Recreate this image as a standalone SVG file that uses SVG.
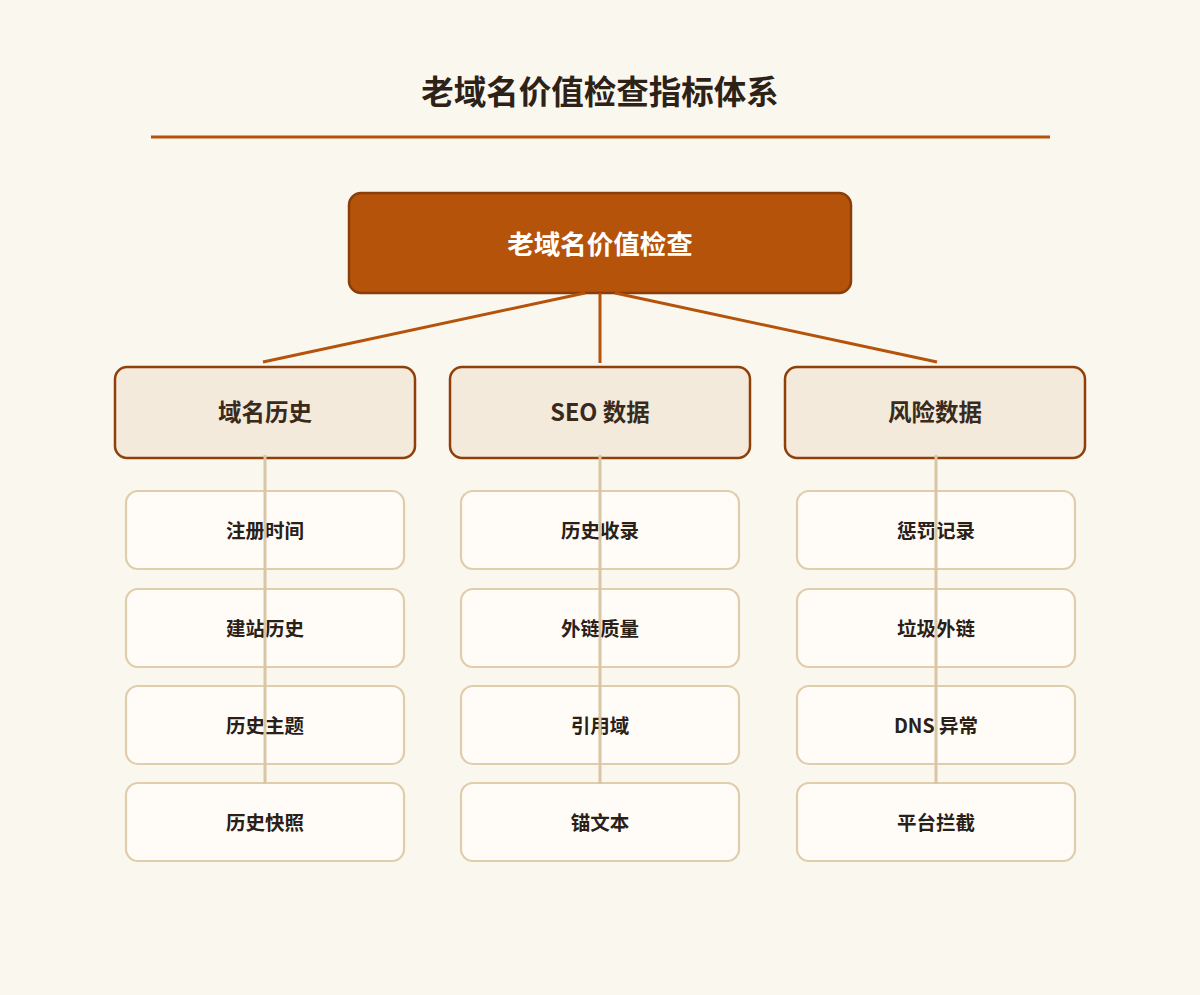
<svg xmlns="http://www.w3.org/2000/svg" width="1200" height="995" viewBox="0 0 1200 995">
<style>
.t{font-family:"Noto Sans CJK SC","Noto Sans",sans-serif;font-weight:bold;text-anchor:middle;dominant-baseline:central}
.cat rect{fill:#f3eadb;stroke:#8e3f0a;stroke-width:2.5}
.cat text{font-size:23.5px;fill:#3a2a1c}
.leaf rect{fill:#fffcf7;stroke:#dfcdab;stroke-width:2.2}
.leaf text{font-size:19.5px;fill:#2a2018}
.c1{stroke:#b5530a;stroke-width:3;fill:none}
.c2{stroke:#d8c6a4;stroke-width:3;fill:none}
</style>
<rect width="1200" height="995" fill="#faf7ef"/>
<text class="t" x="600" y="89" font-size="32.5" fill="#2e2216">老域名价值检查指标体系</text>
<line x1="151" y1="137" x2="1050" y2="137" stroke="#b5530a" stroke-width="3"/>
<g id="root"><rect x="349" y="193" width="502" height="100" rx="12" fill="#b5530a" stroke="#8a3d08" stroke-width="2.5"/><text class="t" x="600" y="242" font-size="26.5" fill="#ffffff">老域名价值检查</text></g>
<g id="cat1" class="cat"><rect x="115" y="367" width="300" height="91" rx="12"/><text class="t" x="265" y="411">域名历史</text></g>
<g id="cat2" class="cat"><rect x="450" y="367" width="300" height="91" rx="12"/><text class="t" x="600" y="411">SEO 数据</text></g>
<g id="cat3" class="cat"><rect x="785" y="367" width="300" height="91" rx="12"/><text class="t" x="935" y="411">风险数据</text></g>
<g id="l11" class="leaf"><rect x="126" y="491" width="278" height="78" rx="12"/><text class="t" x="265" y="529">注册时间</text></g>
<g id="l12" class="leaf"><rect x="126" y="589" width="278" height="78" rx="12"/><text class="t" x="265" y="627">建站历史</text></g>
<g id="l13" class="leaf"><rect x="126" y="686" width="278" height="78" rx="12"/><text class="t" x="265" y="724">历史主题</text></g>
<g id="l14" class="leaf"><rect x="126" y="783" width="278" height="78" rx="12"/><text class="t" x="265" y="821">历史快照</text></g>
<g id="l21" class="leaf"><rect x="461" y="491" width="278" height="78" rx="12"/><text class="t" x="600" y="529">历史收录</text></g>
<g id="l22" class="leaf"><rect x="461" y="589" width="278" height="78" rx="12"/><text class="t" x="600" y="627">外链质量</text></g>
<g id="l23" class="leaf"><rect x="461" y="686" width="278" height="78" rx="12"/><text class="t" x="600" y="724">引用域</text></g>
<g id="l24" class="leaf"><rect x="461" y="783" width="278" height="78" rx="12"/><text class="t" x="600" y="821">锚文本</text></g>
<g id="l31" class="leaf"><rect x="797" y="491" width="278" height="78" rx="12"/><text class="t" x="936" y="529">惩罚记录</text></g>
<g id="l32" class="leaf"><rect x="797" y="589" width="278" height="78" rx="12"/><text class="t" x="936" y="627">垃圾外链</text></g>
<g id="l33" class="leaf"><rect x="797" y="686" width="278" height="78" rx="12"/><text class="t" x="936" y="724">DNS 异常</text></g>
<g id="l34" class="leaf"><rect x="797" y="783" width="278" height="78" rx="12"/><text class="t" x="936" y="821">平台拦截</text></g>
<g id="connectors">
<line class="c1" x1="585" y1="293" x2="263" y2="362"/>
<line class="c1" x1="600" y1="293" x2="600" y2="363"/>
<line class="c1" x1="615" y1="293" x2="937" y2="362"/>
<line class="c2" x1="265" y1="455" x2="265" y2="784"/>
<line class="c2" x1="600" y1="455" x2="600" y2="784"/>
<line class="c2" x1="936" y1="455" x2="936" y2="784"/>
</g>
</svg>
